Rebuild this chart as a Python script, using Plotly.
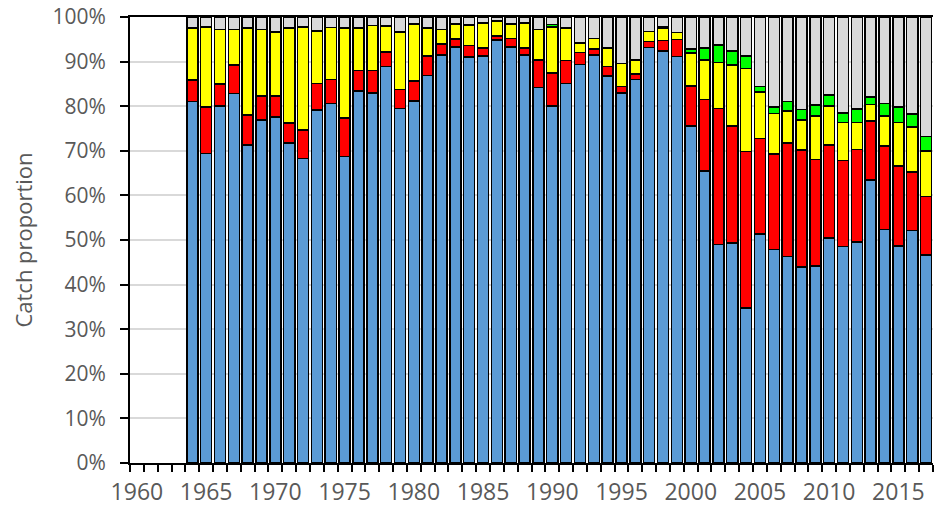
import plotly.graph_objects as go

years = list(range(1964, 2018))

blue = [81.0, 69.4, 80.0, 82.9, 71.3, 76.9, 77.6, 71.7, 68.3, 79.1,
        80.6, 68.7, 83.4, 83.0, 88.9, 79.5, 81.2, 86.9, 91.5, 93.3,
        91.0, 91.3, 94.8, 93.3, 91.5, 84.2, 80.0, 85.1, 89.4, 91.5,
        86.8, 83.0, 86.0, 93.2, 92.4, 91.1, 75.6, 65.5, 49.0, 49.3,
        34.8, 51.4, 47.9, 46.3, 44.0, 44.2, 50.5, 48.5, 49.5, 63.5,
        52.4, 48.7, 52.1, 46.6]
red = [4.9, 10.4, 5.0, 6.3, 6.7, 5.4, 4.7, 4.5, 6.4, 6.0,
       5.4, 8.7, 4.6, 5.0, 3.3, 4.3, 4.4, 4.4, 2.4, 1.8,
       2.6, 1.8, 0.9, 1.9, 1.6, 6.2, 7.4, 5.1, 2.6, 1.3,
       2.1, 1.4, 1.2, 1.3, 2.3, 3.9, 8.9, 16.0, 30.5, 26.3,
       35.0, 21.4, 21.4, 25.4, 26.2, 23.9, 20.8, 19.3, 20.8, 13.2,
       18.7, 17.9, 13.2, 13.1]
yellow = [11.6, 18.0, 12.2, 8.0, 19.5, 14.9, 14.3, 21.3, 23.1, 11.8,
          11.7, 20.1, 9.5, 10.1, 5.8, 12.8, 12.8, 6.2, 3.3, 3.3,
          4.6, 5.6, 3.4, 3.2, 5.6, 6.8, 10.4, 7.3, 2.2, 2.4,
          4.1, 5.2, 3.2, 2.2, 2.8, 1.5, 7.4, 8.9, 10.3, 13.6,
          18.7, 10.4, 9.1, 7.2, 6.7, 9.7, 8.8, 8.6, 6.1, 3.7,
          6.7, 9.7, 10.0, 10.3]
green = [0, 0, 0, 0, 0, 0, 0, 0, 0, 0,
         0, 0, 0, 0, 0, 0, 0, 0, 0, 0,
         0, 0, 0, 0, 0, 0, 0.5, 0, 0, 0,
         0, 0, 0, 0, 0.4, 0, 0.9, 2.6, 3.9, 3.2,
         2.8, 1.2, 1.4, 2.1, 2.4, 2.5, 2.4, 2.1, 3.0, 1.7,
         2.8, 3.5, 2.9, 3.2]
grey = [round(100 - b - r - y - g, 1) for b, r, y, g in zip(blue, red, yellow, green)]

series = [
    ("Blue", blue, "#5B9BD5"),
    ("Red", red, "#FF0000"),
    ("Yellow", yellow, "#FFFF00"),
    ("Green", green, "#00FF00"),
    ("Grey", grey, "#D9D9D9"),
]

fig = go.Figure()
for name, vals, color in series:
    fig.add_trace(
        go.Bar(
            x=years,
            y=[v / 100 for v in vals],
            name=name,
            marker=dict(color=color, line=dict(color="black", width=1.5)),
            showlegend=False,
        )
    )

grey_text = "#595959"

fig.update_layout(
    width=944,
    height=506,
    barmode="stack",
    bargap=0.2,
    plot_bgcolor="white",
    paper_bgcolor="white",
    margin=dict(l=130, r=11, t=17, b=43),
    font=dict(family="Open Sans, sans-serif", size=21, color=grey_text),
    xaxis=dict(
        range=[1959.5, 2017.5],
        tickvals=list(range(1960, 2020, 5)),
        tickfont=dict(size=23),
        ticks="outside",
        ticklen=0,
        ticklabelstandoff=7,
        showline=True,
        linecolor="black",
        linewidth=2,
        mirror=True,
        showgrid=False,
        zeroline=False,
        automargin=False,
        minor=dict(dtick=1, tick0=1959.5, ticks="outside", ticklen=7, tickcolor="black", tickwidth=2),
    ),
    yaxis=dict(
        range=[0, 1],
        tickvals=[i / 10 for i in range(11)],
        tickformat=".0%",
        tickfont=dict(size=21),
        ticks="outside",
        ticklen=8,
        tickwidth=2,
        tickcolor="black",
        ticklabelstandoff=10,
        showline=True,
        linecolor="black",
        linewidth=2,
        showgrid=True,
        gridcolor="#D9D9D9",
        gridwidth=1.5,
        zeroline=False,
        automargin=False,
        title=dict(text="Catch proportion", font=dict(size=22, color=grey_text), standoff=14),
    ),
)

# drop the default 8px page margin so the figure fills the window
fig.write_html(
    "out.html",
    config={"displayModeBar": False},
    post_script="document.body.style.margin = '0';",
)
